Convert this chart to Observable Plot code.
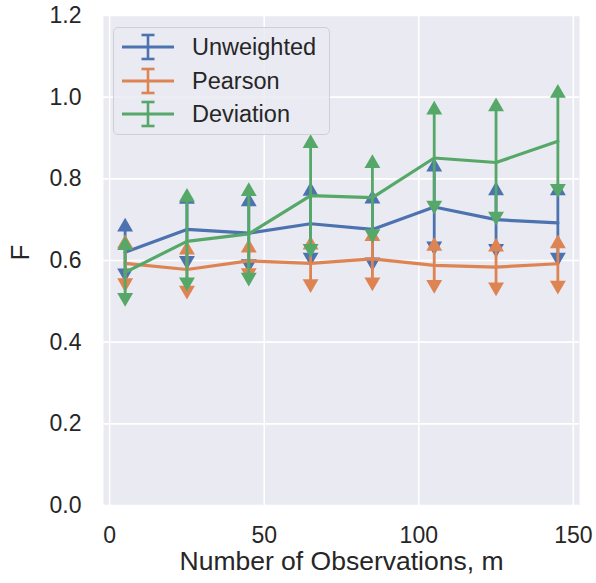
<!DOCTYPE html>
<html>
<head>
<meta charset="utf-8">
<script src="https://cdn.jsdelivr.net/npm/d3@7"></script>
<script src="https://cdn.jsdelivr.net/npm/@observablehq/plot@0.6"></script>
<style>
  html, body { margin: 0; padding: 0; background: #ffffff; }
  #wrap { position: relative; width: 596px; height: 583px; font-family: "Liberation Sans", Arial, sans-serif; color: #262626; }
  #legend { position: absolute; left: 113px; top: 27px; width: 215px; height: 106px;
            background: rgba(234,234,242,0.8); border: 1.3px solid #cfcfd4; border-radius: 5px; }
  .row { position: absolute; left: 0; height: 30px; display: flex; align-items: center; }
  .row svg { display: block; margin-left: 8px; }
  .row span { font-size: 23.5px; margin-left: 18px; line-height: 30px; }
</style>
</head>
<body>
<div id="wrap"><div id="chart"></div><div id="legend"></div></div>
<script>
// ---- data ----
const xs = [5, 25, 45, 65, 85, 105, 125, 145];
const seriesNames = ["Unweighted", "Pearson", "Deviation"];
const seriesColors = ["#4c72b0", "#dd8452", "#55a868"];

const unweightedMean = [0.620, 0.676, 0.667, 0.690, 0.676, 0.731, 0.700, 0.692];
const unweightedLo   = [0.569, 0.600, 0.592, 0.608, 0.596, 0.635, 0.629, 0.608];
const unweightedHi   = [0.682, 0.750, 0.744, 0.770, 0.751, 0.829, 0.771, 0.771];

const pearsonMean = [0.593, 0.578, 0.599, 0.593, 0.604, 0.588, 0.584, 0.592];
const pearsonLo   = [0.545, 0.527, 0.570, 0.543, 0.547, 0.541, 0.535, 0.539];
const pearsonHi   = [0.641, 0.626, 0.631, 0.638, 0.659, 0.635, 0.633, 0.641];

const deviationMean = [0.571, 0.647, 0.665, 0.759, 0.754, 0.851, 0.840, 0.892];
const deviationLo   = [0.509, 0.547, 0.559, 0.629, 0.665, 0.735, 0.708, 0.776];
const deviationHi   = [0.637, 0.755, 0.769, 0.887, 0.838, 0.969, 0.977, 1.010];

const xTicks = [0, 50, 100, 150];
const yTicks = [0, 0.2, 0.4, 0.6, 0.8, 1.0, 1.2];
const xLabel = "Number of Observations, m";
const yLabel = "F";

// ---- build rows ----
const means = [unweightedMean, pearsonMean, deviationMean];
const los = [unweightedLo, pearsonLo, deviationLo];
const his = [unweightedHi, pearsonHi, deviationHi];
const tables = seriesNames.map((name, s) =>
  xs.map((x, i) => ({series: name, x, mean: means[s][i], lo: los[s][i], hi: his[s][i]})));

const seriesMarks = tables.flatMap((rows, s) => {
  const c = seriesColors[s];
  return [
    Plot.ruleX(rows, {x: "x", y1: "lo", y2: "hi", stroke: c, strokeWidth: 2.8}),
    Plot.line(rows, {x: "x", y: "mean", stroke: c, strokeWidth: 3.2}),
    Plot.dot(rows, {x: "x", y: "hi", symbol: "triangle", r: 5.9, fill: c, stroke: "none"}),
    Plot.dot(rows, {x: "x", y: "lo", symbol: "triangle", r: 5.9, fill: c, stroke: "none", rotate: 180})
  ];
});

const chart = Plot.plot({
  width: 596,
  height: 583,
  marginLeft: 103,
  marginRight: 17,
  marginTop: 15,
  marginBottom: 78,
  style: {fontFamily: "'Liberation Sans', Arial, sans-serif", color: "#262626", background: "transparent", overflow: "visible"},
  x: {domain: [-2, 152]},
  y: {domain: [0, 1.2]},
  marks: [
    Plot.frame({fill: "#eaeaf2", stroke: "none"}),
    Plot.gridX(xTicks, {stroke: "#ffffff", strokeOpacity: 1, strokeWidth: 1.6}),
    Plot.gridY(yTicks, {stroke: "#ffffff", strokeOpacity: 1, strokeWidth: 1.6}),
    Plot.axisX(xTicks, {tickSize: 0, tickPadding: 21, fontSize: 23, label: null}),
    Plot.axisY(yTicks, {tickSize: 0, tickPadding: 22, fontSize: 23, label: null, tickFormat: d => d.toFixed(1)}),
    Plot.text([xLabel], {text: d => d, frameAnchor: "bottom", dy: 64, fontSize: 26.5}),
    Plot.text([yLabel], {text: d => d, frameAnchor: "left", dx: -83, rotate: -90, fontSize: 26}),
    ...seriesMarks
  ]
});
document.getElementById("chart").appendChild(chart);

// ---- legend (HTML overlay) ----
const legend = document.getElementById("legend");
seriesNames.forEach((name, s) => {
  const row = document.createElement("div");
  row.className = "row";
  row.style.top = (4 + s * 33.7) + "px";
  const c = seriesColors[s];
  row.innerHTML =
    `<svg width="52" height="30" viewBox="0 0 52 30">
       <line x1="0" x2="52" y1="15" y2="15" stroke="${c}" stroke-width="3"/>
       <line x1="26" x2="26" y1="3" y2="27" stroke="${c}" stroke-width="2.6"/>
       <line x1="19.5" x2="32.5" y1="3" y2="3" stroke="${c}" stroke-width="2.6"/>
       <line x1="19.5" x2="32.5" y1="27" y2="27" stroke="${c}" stroke-width="2.6"/>
     </svg><span>${name}</span>`;
  legend.appendChild(row);
});
</script>
</body>
</html>
